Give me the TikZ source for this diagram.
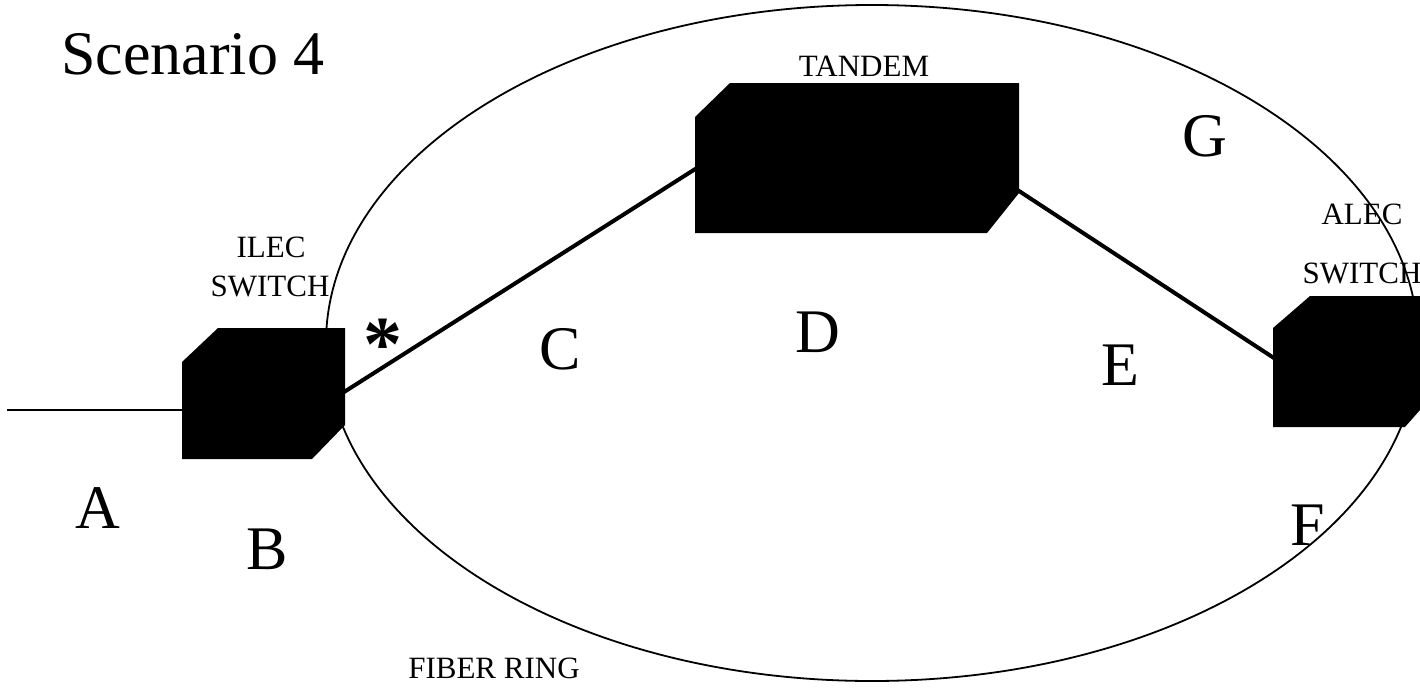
\documentclass[tikz,border=0pt]{standalone}
\usepackage{fontspec}
\setmainfont{Liberation Serif}
\begin{document}
\begin{tikzpicture}[x=1pt,y=-1pt,
    big/.style={inner sep=0pt, font=\fontsize{62}{70}\selectfont},
    small/.style={inner sep=0pt, font=\fontsize{31}{36}\selectfont},
    switchbox/.style={fill=black},
    trunk/.style={line width=4pt},
    access/.style={line width=1.5pt},
    ring/.style={line width=1.8pt}]
  \useasboundingbox (0,0) rectangle (1420,696);

  % fibre ring
  \draw[ring] (872,343) ellipse [x radius=546pt, y radius=338pt];

  % switches (chamfered blocks)
  \fill[switchbox] (218,328) -- (345,328) -- (345,425) -- (312,459)
                   -- (182,459) -- (182,362) -- cycle;
  \fill[switchbox] (730,83) -- (1019,83) -- (1019,193) -- (987,233)
                   -- (695,233) -- (695,117) -- cycle;
  \fill[switchbox] (1310,296) -- (1420,296) -- (1420,410) -- (1405,427)
                   -- (1273,427) -- (1273,328) -- cycle;

  % connection points
  \coordinate (lineend) at (7,410);
  \coordinate (ilecin)  at (182,410);
  \coordinate (ilecout) at (322,406);
  \coordinate (tandin)  at (700,166);
  \coordinate (tandout) at (990,172);
  \coordinate (alecin)  at (1280,362);

  \draw[access] (lineend) -- (ilecin);
  \draw[trunk] (ilecout) -- (tandin);
  \draw[trunk] (tandout) -- (alecin);

  % labels
  \node[big] (title) at (193,54) {Scenario 4};
  \node[small] (tandem) at (864,66) {TANDEM};
  \node[small] (ilec1) at (271,247) {ILEC};
  \node[small] (ilec2) at (270,286) {SWITCH};
  \node[small] (alec1) at (1362,214) {ALEC};
  \node[small] (alec2) at (1362,273) {SWITCH};
  \node[small] (fiber) at (494,668) {FIBER RING};
  \node[inner sep=0pt, font=\fontsize{78}{80}\selectfont\bfseries] (star) at (383,345) {*};

  \node[big] (la) at (98,508) {A};
  \node[big] (lb) at (267,549) {B};
  \node[big] (lc) at (560,349) {C};
  \node[big] (ld) at (818,332) {D};
  \node[big] (le) at (1120,365) {E};
  \node[big] (lf) at (1308,525) {F};
  \node[big] (lg) at (1205,136) {G};
\end{tikzpicture}
\end{document}
